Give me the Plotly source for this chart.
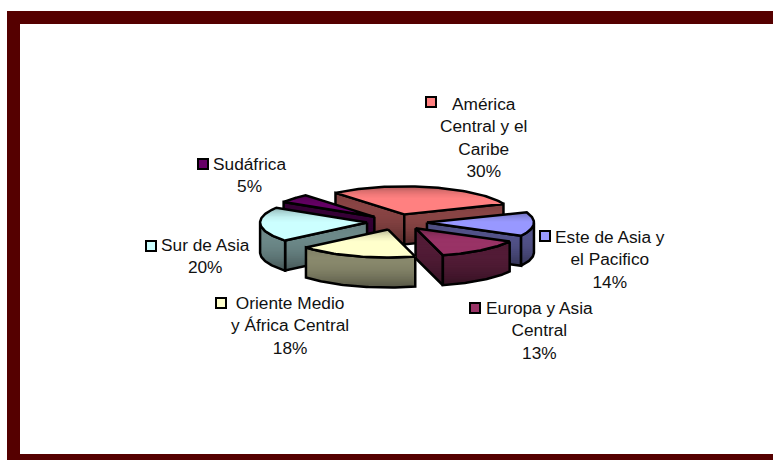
import numpy as np
import plotly.graph_objects as go

labels = ["América Central y el Caribe", "Este de Asia y el Pacífico", "Europa y Asia Central",
          "Oriente Medio y África Central", "Sur de Asia", "Sudáfrica"]
shares = [30, 14, 13, 18, 20, 5]
top_colors = ["#FF8080", "#9999FF", "#993366", "#FFFFCC", "#CCFFFF", "#660066"]
side_colors = ["#804040", "#4D4D80", "#4D1A33", "#808066", "#668080", "#330033"]

# text of the data labels, line breaks as in the picture
label_texts = ["América<br>Central y el<br>Caribe<br>30%", "Este de Asia y<br>el Pacifico<br>14%",
               "Europa y Asia<br>Central<br>13%", "Oriente Medio<br>y África Central<br>18%",
               "Sur de Asia<br>20%", "Sudáfrica<br>5%"]
label_x = [483, 610, 539, 290, 205, 249]
label_y = [137, 259, 330, 325, 256, 175]
key_x = [431, 545, 475, 221, 151, 203]
key_y = [102, 236, 308, 303, 246, 164]

# pie geometry in page pixels
CX, CY = 397, 222
A, B = 107, 28
DEPTH = 30
EXPLODE = 30
START = -40
MAROON = "#550000"


def shade(color, k):
    r, g, b = [int(color[i:i + 2], 16) for i in (1, 3, 5)]
    return f"rgb({min(255, int(r * k))},{min(255, int(g * k))},{min(255, int(b * k))})"


def clip_below(px, py, y0):
    """Part of a polygon that lies below page row y0."""
    out_x, out_y = [], []
    n = len(px)
    for i in range(n):
        x1, y1, x2, y2 = px[i], py[i], px[(i + 1) % n], py[(i + 1) % n]
        if y1 >= y0:
            out_x.append(x1)
            out_y.append(y1)
        if (y1 >= y0) != (y2 >= y0):
            f = (y0 - y1) / (y2 - y1)
            out_x.append(x1 + f * (x2 - x1))
            out_y.append(y0)
    return out_x, out_y


def add_face(fig, px, py, color, ramp):
    """Filled polygon, shaded from its top row down, with a black outline."""
    px, py = list(px), list(py)
    y_min, y_max = min(py), max(py)
    steps = np.interp(np.linspace(0, 1, 24), np.linspace(0, 1, len(ramp)), ramp)
    for j, k in enumerate(steps):
        cx, cy = clip_below(px, py, y_min + (y_max - y_min) * j / len(steps))
        if cx:
            fig.add_trace(go.Scatter(x=cx + cx[:1], y=cy + cy[:1], mode="lines", fill="toself",
                                     fillcolor=shade(color, k), line=dict(width=0), hoverinfo="skip"))
    fig.add_trace(go.Scatter(x=px + px[:1], y=py + py[:1], mode="lines",
                             line=dict(color="black", width=2.5), hoverinfo="skip"))


def add_slice(fig, t0, t1, top, side):
    mid = np.radians((t0 + t1) / 2)
    ax = CX + EXPLODE * np.sin(mid)
    ay = CY - EXPLODE * np.cos(mid) * B / A
    angles = np.radians(np.linspace(t0, t1, 60))
    ex = ax + A * np.sin(angles)
    ey = ay - B * np.cos(angles)
    side_ramp = [1.0, 1.05, 1.08, 1.05, 1.0, 0.92, 0.82, 0.7]

    # cut walls that face the viewer
    if np.sin(np.radians(t0)) < 0:
        add_face(fig, [ax, ex[0], ex[0], ax], [ay, ey[0], ey[0] + DEPTH, ay + DEPTH], side, side_ramp)
    if np.sin(np.radians(t1)) > 0:
        add_face(fig, [ax, ex[-1], ex[-1], ax], [ay, ey[-1], ey[-1] + DEPTH, ay + DEPTH], side, side_ramp)

    # rim, only the part on the near side of the ellipse
    near = np.cos(angles) <= 0
    if near.any():
        rx, ry = ex[near], ey[near]
        add_face(fig, list(rx) + list(rx[::-1]), list(ry) + list(ry[::-1] + DEPTH), side, side_ramp)

    # top face
    add_face(fig, [ax] + list(ex), [ay] + list(ey), top, [0.72, 0.85, 0.95, 1.0, 1.0, 1.0, 1.0, 1.0])


fig = go.Figure()

edges = START + np.cumsum([0] + shares) * 3.6
spans = [(edges[i], edges[i + 1]) for i in range(len(shares))]
# back to front: América, Sudáfrica, Sur de Asia, Este de Asia, Europa, Oriente Medio
for i in [0, 5, 4, 1, 2, 3]:
    add_slice(fig, spans[i][0], spans[i][1], top_colors[i], side_colors[i])

fig.add_trace(go.Scatter(x=key_x, y=key_y, mode="markers", hoverinfo="skip",
                         marker=dict(symbol="square", size=10, color=top_colors,
                                     line=dict(color="black", width=2))))

for text, x, y in zip(label_texts, label_x, label_y):
    fig.add_annotation(x=x, y=y, text=text, showarrow=False, align="center",
                       font=dict(family="Liberation Sans", size=17.3, color="#111111"))

# maroon frame, open on the right
fig.add_shape(type="rect", x0=7, x1=773, y0=11, y1=24, fillcolor=MAROON, line_width=0)
fig.add_shape(type="rect", x0=7, x1=20, y0=11, y1=460, fillcolor=MAROON, line_width=0)
fig.add_shape(type="rect", x0=7, x1=773, y0=454, y1=460, fillcolor=MAROON, line_width=0)

fig.update_xaxes(range=[0, 773], visible=False, fixedrange=True)
fig.update_yaxes(range=[460, 0], visible=False, fixedrange=True)
fig.update_layout(width=773, height=460, margin=dict(l=0, r=0, t=0, b=0), showlegend=False,
                  paper_bgcolor="white", plot_bgcolor="white")
# the page's default body margin would push the figure 8px down and right
fig.write_html("out.html", config=dict(displayModeBar=False),
               post_script="document.body.style.margin='0';document.body.style.overflow='hidden';")
